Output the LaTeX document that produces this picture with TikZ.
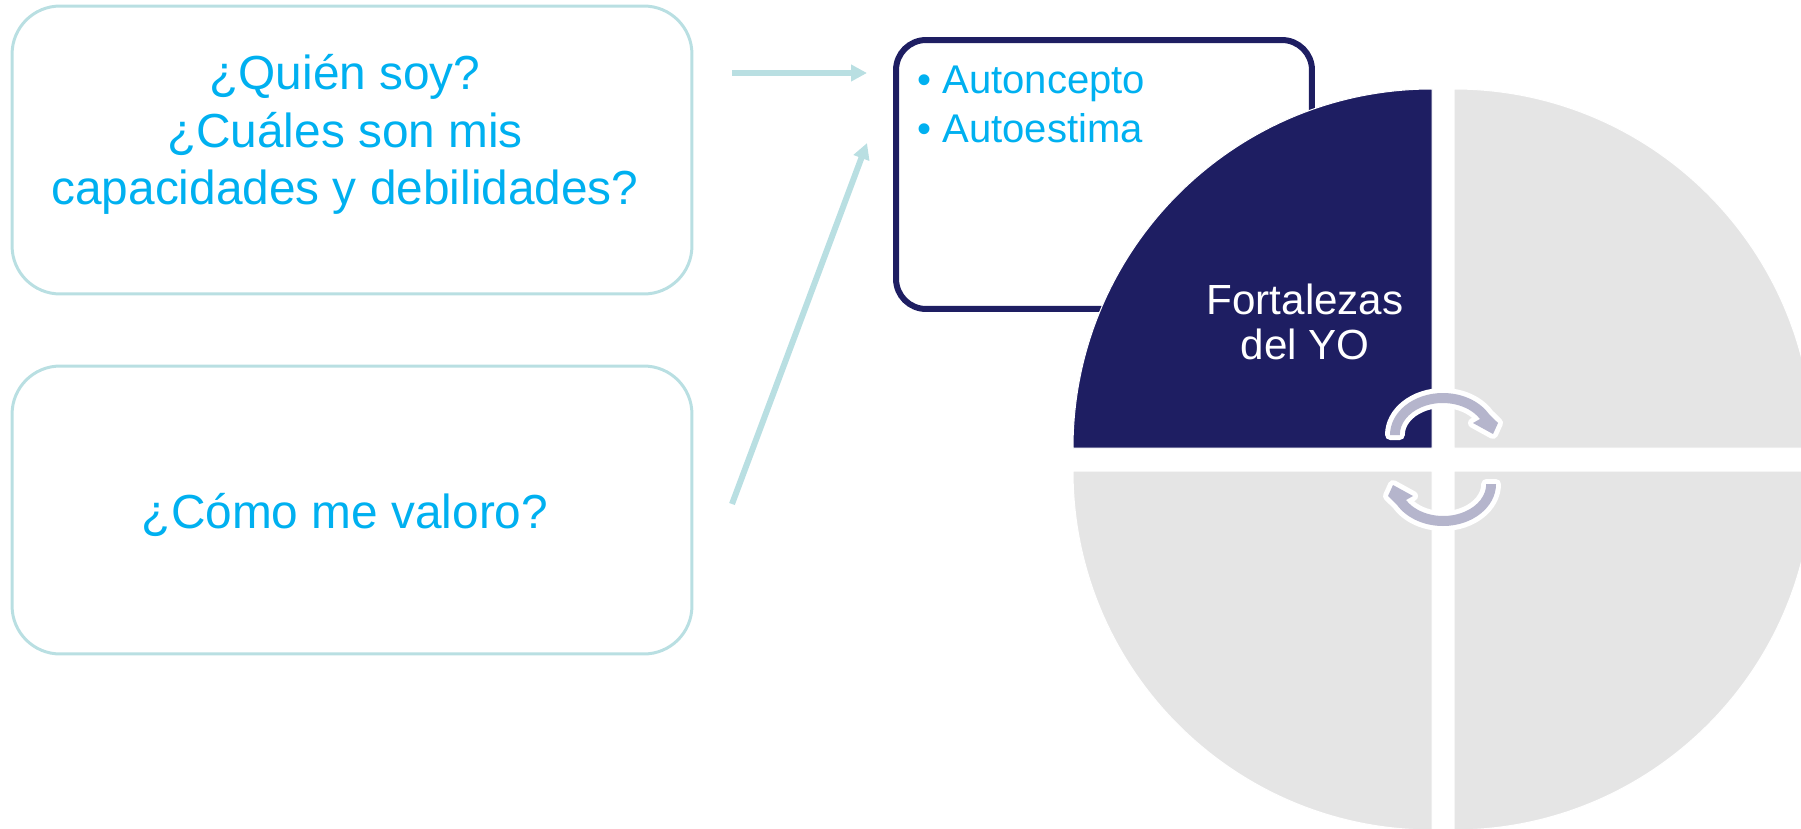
\documentclass[tikz,border=0pt]{standalone}
\usepackage{fontspec}
\setmainfont{Liberation Sans}
\usetikzlibrary{arrows.meta}
\definecolor{tealline}{HTML}{B9DFE2}
\definecolor{skytext}{HTML}{00B0F0}
\definecolor{navyfill}{HTML}{1E1E62}
\definecolor{greyfill}{HTML}{E5E5E5}
\definecolor{swirlfill}{HTML}{B5B5CC}
\tikzset{
	questionbox/.style={draw=tealline, line width=0.06cm, rounded corners=0.96cm, minimum width=13.6cm, minimum height=5.76cm},
	questiontext/.style={align=center, text=skytext, font=\fontsize{27.2}{32.7}\selectfont},
	bullettext/.style={anchor=west, text=skytext, font=\fontsize{22.8}{28}\selectfont},
	tealarrow/.style={draw=tealline, line width=0.12cm, -{Triangle[length=0.32cm,width=0.32cm]}},
	swirl/.style={fill=swirlfill, preaction={draw=white, line width=0.2cm, line join=round}},
	quadrant/.style={fill=#1, draw=white, line width=0.02cm},
}
\def\swirlpath{(1390,435) arc[start angle=180, end angle=330, x radius=53, y radius=42] -- (1498,423) -- (1493,434) -- (1473,423) -- (1480,419) arc[start angle=330, end angle=180, x radius=43, y radius=32] -- cycle}
\begin{document}
\begin{tikzpicture}[x=0.02cm, y=-0.02cm]
		\useasboundingbox (0,0) rectangle (1801,828);
		\clip (0,0) rectangle (1801,828);
		
		\node[questionbox] (quien) at (352,150) {};
		\node[questiontext] (quienText) at (345,134.5) {¿Quién soy?\\¿Cuáles son mis\\capacidades y debilidades?};
		\node[questionbox] (valoro) at (352,510) {};
		\node[questiontext] (valoroText) at (345,514.5) {¿Cómo me valoro?};
		
		\coordinate (quienTail) at (732,73);
		\coordinate (quienTip) at (867,73);
		\coordinate (valoroTail) at (732,504);
		\coordinate (valoroTip) at (867,143);
		\draw[tealarrow] (quienTail) -- (quienTip);
		\draw[tealarrow] (valoroTail) -- (valoroTip);
		
		\node[draw=navyfill, line width=0.12cm, rounded corners=0.6cm, minimum width=8.32cm, minimum height=5.38cm] (yobox) at (1104,174.5) {};
		\node[bullettext] (concepto) at (911,84) {• Autoncepto};
		\node[bullettext] (estima) at (911,128) {• Autoestima};
		
		\draw[quadrant=navyfill] (1432,448) -- (1073,448) arc (180:270:359) -- cycle;
		\draw[quadrant=greyfill] (1454,448) -- (1454,89) arc (270:360:359) -- cycle;
		\draw[quadrant=greyfill] (1432,471) -- (1432,830) arc (90:180:359) -- cycle;
		\draw[quadrant=greyfill] (1454,471) -- (1813,471) arc (0:90:359) -- cycle;
		
		\node[align=center, text=white, font=\fontsize{24}{25.5}\selectfont] (fortalezas) at (1305,322) {Fortalezas\\del YO};
		
		\path[swirl] \swirlpath;
		\path[swirl, rotate around={180:(1443,459.5)}] \swirlpath;
	\end{tikzpicture}
\end{document}
